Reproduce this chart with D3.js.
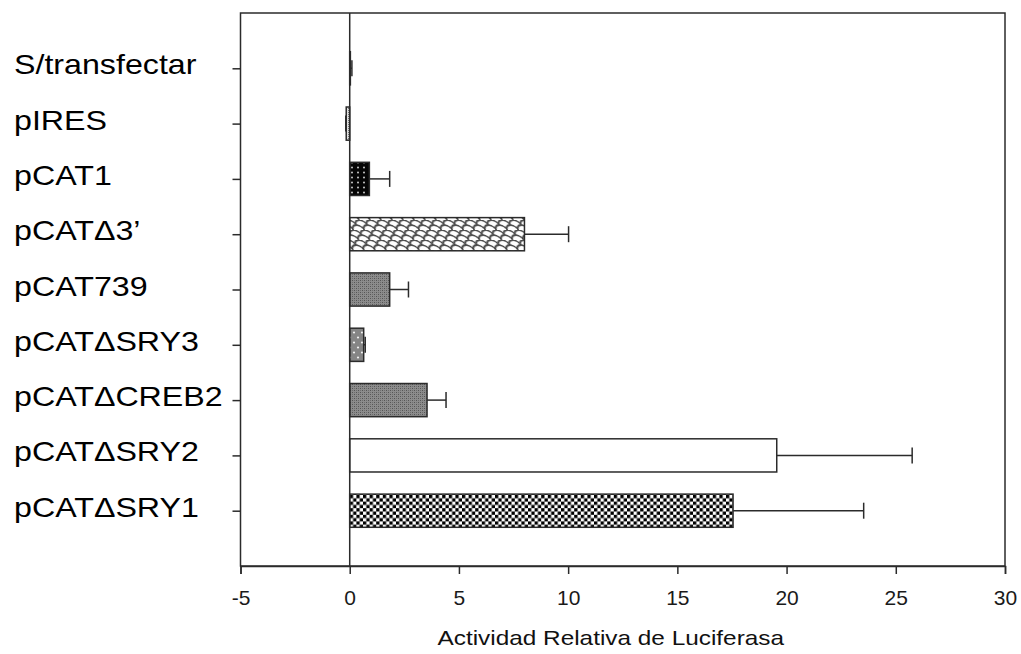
<!DOCTYPE html>
<html>
<head>
<meta charset="utf-8">
<script src="https://cdn.jsdelivr.net/npm/d3@7"></script>
<style>
  html, body { margin: 0; padding: 0; background: #fff; }
  svg { display: block; font-family: "Liberation Sans", Arial, sans-serif; }
</style>
</head>
<body>
<svg id="chart" width="1021" height="654"></svg>
<script>
// Constructs, top to bottom
const categories = ["S/transfectar", "pIRES", "pCAT1", "pCATΔ3’", "pCAT739",
                    "pCATΔSRY3", "pCATΔCREB2", "pCATΔSRY2", "pCATΔSRY1"];
// Relative luciferase activity (mean) and error (one side)
const means  = [0.03, -0.16, 0.90, 8.00, 1.83, 0.64, 3.54, 19.55, 17.55];
const errors = [0.07,  0.02, 0.93, 2.02, 0.86, 0.07, 0.87,  6.20,  5.98];
// Fill pattern used by each bar
const fills  = ["solid-black", "light-grain", "black-dots", "scales", "gray-grain",
                "gray-dots", "gray-grain", "plain-white", "checker"];
const xTicks = [-5, 0, 5, 10, 15, 20, 25, 30];
const xTitle = "Actividad Relativa de Luciferasa";

const svg = d3.select("#chart");
const frame = { left: 240.5, right: 1005, top: 13, bottom: 566 };
const ink = "#2b2b2b";

const x = d3.scaleLinear().domain([-5, 30]).range([frame.left, frame.right]);
const y = d3.scalePoint().domain(categories).range([frame.top, frame.bottom]).padding(1);
const barH = y.step() * 0.6;

// ---- patterns ----
const defs = svg.append("defs");

let p = defs.append("pattern").attr("id", "black-dots").attr("patternUnits", "userSpaceOnUse")
  .attr("width", 6).attr("height", 5).attr("x", 1).attr("y", 0);
p.append("rect").attr("width", 6).attr("height", 5).attr("fill", "#050505");
p.append("circle").attr("cx", 3).attr("cy", 2.5).attr("r", 1).attr("fill", "#c8c8c8");

// overlapping fish-scale texture
p = defs.append("pattern").attr("id", "scales").attr("patternUnits", "userSpaceOnUse")
  .attr("width", 11).attr("height", 10).attr("patternTransform", "skewX(28)");
p.append("rect").attr("width", 11).attr("height", 10).attr("fill", "#fff");
p.append("path")
  .attr("d", "M0,10 A5.5,5 0 0 1 11,10 M-5.5,5 A5.5,5 0 0 1 5.5,5 M5.5,5 A5.5,5 0 0 1 16.5,5 M0,0 A5.5,5 0 0 1 11,0")
  .attr("fill", "none").attr("stroke", "#444").attr("stroke-width", 1.5);

p = defs.append("pattern").attr("id", "gray-grain").attr("patternUnits", "userSpaceOnUse")
  .attr("width", 4).attr("height", 4);
p.append("rect").attr("width", 4).attr("height", 4).attr("fill", "#8c8c8c");
p.append("rect").attr("x", 0).attr("y", 0).attr("width", 1).attr("height", 1).attr("fill", "#555");
p.append("rect").attr("x", 2).attr("y", 2).attr("width", 1).attr("height", 1).attr("fill", "#555");
p.append("rect").attr("x", 2).attr("y", 0).attr("width", 1).attr("height", 1).attr("fill", "#6e6e6e");
p.append("rect").attr("x", 0).attr("y", 2).attr("width", 1).attr("height", 1).attr("fill", "#6e6e6e");

p = defs.append("pattern").attr("id", "light-grain").attr("patternUnits", "userSpaceOnUse")
  .attr("width", 2).attr("height", 2);
p.append("rect").attr("width", 2).attr("height", 2).attr("fill", "#e0e0e0");
p.append("rect").attr("width", 1).attr("height", 1).attr("fill", "#777");

p = defs.append("pattern").attr("id", "gray-dots").attr("patternUnits", "userSpaceOnUse")
  .attr("width", 8).attr("height", 10);
p.append("rect").attr("width", 8).attr("height", 10).attr("fill", "#858585");
p.append("circle").attr("cx", 2).attr("cy", 2.5).attr("r", 1.1).attr("fill", "#f2f2f2");
p.append("circle").attr("cx", 6).attr("cy", 7.5).attr("r", 1.1).attr("fill", "#f2f2f2");

p = defs.append("pattern").attr("id", "checker").attr("patternUnits", "userSpaceOnUse")
  .attr("width", 6.6).attr("height", 6.6);
p.append("rect").attr("width", 6.6).attr("height", 6.6).attr("fill", "#fff");
p.append("rect").attr("width", 3.3).attr("height", 3.3).attr("fill", "#000");
p.append("rect").attr("x", 3.3).attr("y", 3.3).attr("width", 3.3).attr("height", 3.3).attr("fill", "#000");

const fillOf = key => key === "solid-black" ? "#000" : key === "plain-white" ? "#fff" : `url(#${key})`;

// ---- frame ----
svg.append("rect")
  .attr("x", frame.left).attr("y", frame.top)
  .attr("width", frame.right - frame.left).attr("height", frame.bottom - frame.top)
  .attr("fill", "none").attr("stroke", ink).attr("stroke-width", 1.5);

// ---- x axis ----
const xAxis = svg.append("g")
  .attr("transform", `translate(0,${frame.bottom})`)
  .call(d3.axisBottom(x).tickValues(xTicks).tickSize(8).tickPadding(16).tickFormat(d3.format("d")));
xAxis.select(".domain").attr("stroke", ink).attr("stroke-width", 1.5);
xAxis.selectAll(".tick line").attr("stroke", ink).attr("stroke-width", 1.5);
xAxis.selectAll(".tick text")
  .attr("font-size", 21).attr("fill", "#1a1a1a")
  .attr("font-family", "'Liberation Sans', Arial, sans-serif")
  .text(d => d < 0 ? "-" + Math.abs(d) : d);

svg.append("text")
  .attr("transform", `translate(${(frame.left + frame.right) / 2 - 12},645) scale(1.16,1)`)
  .attr("text-anchor", "middle").attr("font-size", 21).attr("fill", "#111")
  .text(xTitle);

// ---- y axis ticks ----
const yAxis = svg.append("g")
  .attr("transform", `translate(${frame.left},0)`)
  .call(d3.axisLeft(y).tickSize(8).tickFormat(""));
yAxis.select(".domain").remove();
yAxis.selectAll(".tick line").attr("stroke", ink).attr("stroke-width", 1.5);

// category labels
svg.append("g").selectAll("text")
  .data(categories)
  .join("text")
  .attr("transform", d => `translate(14,${y(d) + 6}) scale(1.13,1)`)
  .attr("font-size", 28.5).attr("fill", "#000")
  .text(d => d);

// ---- bars ----
const rows = categories.map((c, i) => ({ c, v: means[i], e: errors[i], f: fills[i] }));

svg.append("g").selectAll("rect")
  .data(rows)
  .join("rect")
  .attr("x", d => Math.min(x(0), x(d.v)))
  .attr("y", d => y(d.c) - barH / 2)
  .attr("width", d => Math.abs(x(d.v) - x(0)))
  .attr("height", barH)
  .attr("fill", d => fillOf(d.f))
  .attr("stroke", ink).attr("stroke-width", 1.5);

// ---- error bars (outward side only) ----
const eb = svg.append("g").attr("stroke", ink).attr("stroke-width", 1.5);
const tip = d => x(d.v + Math.sign(d.v) * d.e);
eb.selectAll("line.stem")
  .data(rows)
  .join("line").attr("class", "stem")
  .attr("x1", d => x(d.v)).attr("x2", tip)
  .attr("y1", d => y(d.c)).attr("y2", d => y(d.c));
eb.selectAll("line.cap")
  .data(rows)
  .join("line").attr("class", "cap")
  .attr("x1", tip).attr("x2", tip)
  .attr("y1", d => y(d.c) - 8).attr("y2", d => y(d.c) + 8);

// zero reference line, drawn over the bar edges
svg.append("line")
  .attr("x1", x(0)).attr("x2", x(0)).attr("y1", frame.top).attr("y2", frame.bottom)
  .attr("stroke", ink).attr("stroke-width", 1.5);
</script>
</body>
</html>
